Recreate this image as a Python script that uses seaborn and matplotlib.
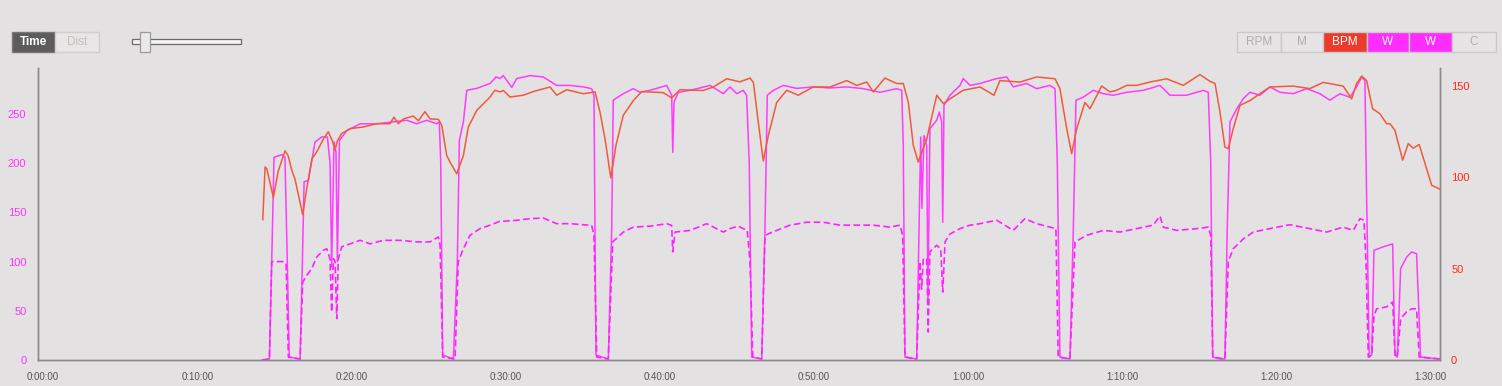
import numpy as np
import pandas as pd
import matplotlib
matplotlib.use("Agg")
import matplotlib.pyplot as plt
from matplotlib.patches import Rectangle
import seaborn as sns

# ---------------- data (time in minutes) ----------------
hr_t = [14.25, 14.40, 14.51, 14.94, 15.24, 15.69, 15.89, 16.13, 16.34, 16.84, 17.10, 17.43, 17.75,
        18.18, 18.50, 18.79, 18.94, 19.09, 19.37, 19.91, 20.77, 21.64, 22.50, 22.76, 23.04, 23.37,
        24.01, 24.34, 24.77, 25.10, 25.64, 25.86, 26.18, 26.39, 26.83, 27.26, 27.58, 28.13, 28.99,
        29.31, 29.64, 29.85, 30.29, 31.15, 31.80, 32.88, 33.31, 33.96, 35.04, 35.80, 36.12, 36.45,
        36.82, 37.16, 37.63, 38.28, 38.83, 40.23, 40.77, 41.31, 42.82, 43.47, 44.34, 45.20, 45.85,
        46.07, 46.39, 46.71, 47.04, 47.58, 48.23, 48.98, 49.95, 51.04, 52.12, 52.77, 53.42, 53.85,
        54.60, 55.36, 55.79, 56.12, 56.44, 56.76, 57.31, 57.96, 58.39, 58.82, 59.68, 60.77, 61.67,
        62.06, 63.36, 64.44, 65.63, 65.95, 66.39, 66.71, 67.04, 67.57, 67.90, 68.66, 69.20, 69.63,
        70.28, 70.93, 71.79, 72.87, 73.95, 75.03, 75.68, 76.01, 76.33, 76.65, 76.87, 77.19, 77.63,
        78.27, 78.92, 79.57, 81.08, 82.15, 83.03, 84.32, 84.87, 85.19, 85.52, 85.84, 86.23, 86.71,
        87.14, 87.36, 87.68, 88.18, 88.54, 88.86, 89.25, 89.73, 90.06, 90.60]
hr_bpm = [76.7, 105.7, 104.8, 89, 103, 114.5, 112, 104, 99, 79.6, 93.8, 110, 114,
          121, 125, 119.4, 115, 120, 124, 126.7, 127.6, 129.4, 129.4, 133, 129.4, 132,
          133.6, 131, 136, 132, 131.8, 128.5, 112, 108.4, 102, 112, 127.6, 136.7, 144,
          147.7, 146.8, 147.6, 144, 145, 147, 149.5, 145, 148, 145.8, 146.8, 135.8, 121,
          99.7, 117.6, 134, 142, 147, 146.4, 143.5, 148, 147.6, 149.5, 154, 152.3, 154.4,
          152, 130, 109, 123, 141, 147.7, 145, 149.5, 149.5, 153, 150.4, 152.2, 146.8,
          154.4, 151.4, 151.4, 141, 117.6, 108.4, 121, 145, 140.4, 143, 147.7, 149.5, 145,
          153, 152.2, 155, 154, 148.6, 126.7, 113, 126.7, 141, 137.6, 150, 146.8, 147.7,
          150.4, 150.4, 152.2, 154, 150.4, 156.3, 152.6, 151.4, 135.8, 116.6, 115.7, 126.7, 139.5,
          142, 145.8, 149.5, 150, 148.6, 152, 150, 143, 151.4, 155.5, 153, 137.6, 134.8,
          129.4, 129.4, 125.7, 109.4, 118.5, 116, 118, 104.8, 95.7, 93.5]

w1_t = [14.20, 14.68, 14.83, 14.98, 15.48, 15.69, 15.84, 15.97, 16.67, 16.82, 16.93, 17.21, 17.64,
        18.07, 18.44, 18.61, 18.72, 18.87, 19.00, 19.09, 19.22, 19.70, 20.56, 21.64, 22.72, 23.59,
        24.24, 24.88, 25.53, 25.70, 25.79, 25.92, 26.61, 26.87, 27.00, 27.26, 27.48, 28.13, 28.99,
        29.38, 29.64, 29.85, 30.40, 30.72, 31.58, 32.44, 33.31, 34.18, 35.04, 35.58, 35.73, 35.86,
        36.66, 36.88, 36.98, 37.63, 38.28, 38.72, 39.36, 40.45, 40.77, 40.84, 40.92, 41.20, 41.96,
        43.26, 44.12, 44.55, 44.99, 45.41, 45.63, 45.80, 45.96, 46.61, 46.82, 46.97, 47.36, 48.01,
        48.88, 49.95, 51.04, 52.12, 53.20, 54.28, 55.36, 55.69, 55.79, 55.90, 56.66, 56.81, 56.92,
        57.00, 57.13, 57.31, 57.39, 57.52, 57.96, 58.13, 58.28, 58.35, 58.43, 58.82, 59.47, 59.68,
        60.12, 60.77, 61.41, 61.85, 62.50, 62.92, 63.79, 64.44, 65.30, 65.63, 65.78, 65.95, 66.60,
        66.82, 66.99, 67.46, 68.11, 68.77, 69.41, 70.28, 71.36, 72.44, 73.09, 74.17, 75.25, 75.57,
        75.73, 75.86, 76.33, 76.65, 76.80, 76.98, 77.41, 77.84, 78.27, 78.92, 79.57, 80.22, 81.08,
        81.95, 82.81, 83.46, 84.11, 84.76, 85.19, 85.52, 85.73, 85.84, 86.01, 86.17, 86.32, 86.92,
        87.53, 87.68, 87.83, 88.05, 88.44, 88.76, 89.08, 89.19, 89.34, 90.60]
w1 = [0, 1, 100, 206, 208.6, 206, 100, 3, 1, 100, 181, 182.6, 221.5,
      226.6, 226.6, 201, 95, 221.5, 211, 100, 223, 233, 240, 240, 242, 243.6,
      240, 243.6, 240, 242, 201, 5, 1, 100, 223, 242, 274, 276, 281,
      287.6, 286, 289, 277, 286, 289, 287.6, 279, 279, 277.5, 275.7, 269, 5,
      1, 133, 264, 270.6, 275.7, 272, 274, 279, 269, 211, 262, 272, 274,
      279, 270.6, 277.5, 270.6, 274, 269, 201, 3, 1, 133, 269, 274, 279,
      276, 277.5, 276.4, 277.5, 275.7, 272, 275.7, 274, 218, 3, 1, 133, 226.6,
      154, 228, 218, 60, 235, 243.6, 252, 242, 140, 259, 269, 279, 286,
      279, 281, 284, 286, 287.6, 277.5, 281, 275.7, 279, 275.7, 201, 3, 1,
      133, 264, 267, 274, 270.6, 269, 272, 274, 279, 269, 269, 274, 272,
      201, 3, 1, 1, 133, 242, 255, 265.5, 272, 269, 277.5, 272, 270.6,
      275.7, 270.6, 264, 270.6, 267, 277.5, 287.6, 284, 167, 3, 5, 111.5, 115,
      118, 5, 3, 93, 104.7, 109.8, 108, 66, 3, 1]

w2_t = [14.20, 14.68, 14.83, 15.58, 15.76, 15.91, 16.67, 16.84, 17.10, 17.43, 17.75, 18.18, 18.40,
        18.61, 18.72, 18.83, 18.94, 19.05, 19.15, 19.37, 19.91, 20.56, 21.21, 22.07, 23.15, 24.24,
        25.10, 25.64, 25.75, 25.92, 26.72, 26.93, 27.26, 27.69, 28.34, 28.99, 29.64, 29.85, 30.72,
        31.58, 32.44, 33.31, 34.18, 35.04, 35.58, 35.73, 35.91, 36.66, 36.95, 37.63, 38.28, 39.36,
        40.45, 40.77, 40.84, 40.99, 41.96, 43.04, 44.12, 44.55, 45.09, 45.41, 45.67, 45.85, 46.03,
        46.61, 46.82, 47.58, 48.44, 49.53, 50.60, 51.69, 52.77, 53.85, 54.93, 55.58, 55.75, 55.90,
        56.66, 56.87, 56.98, 57.09, 57.31, 57.41, 57.52, 57.96, 58.22, 58.35, 58.50, 58.82, 59.47,
        60.12, 60.77, 61.85, 62.92, 63.68, 64.44, 65.30, 65.69, 65.84, 66.60, 66.93, 67.68, 68.77,
        69.84, 70.93, 72.00, 72.44, 72.65, 73.52, 74.82, 75.57, 75.73, 75.86, 76.65, 76.87, 77.19,
        77.84, 78.49, 79.57, 80.87, 82.15, 83.25, 84.32, 84.97, 85.41, 85.67, 85.80, 85.95, 86.17,
        86.32, 86.49, 87.14, 87.53, 87.68, 87.83, 88.05, 88.44, 88.76, 89.08, 89.25, 90.60]
w2 = [0, 1, 100, 100, 98, 3, 1, 79, 86, 93, 104.7, 111.5, 113,
      103, 48.8, 103, 100, 42, 103, 115, 118, 121.6, 118, 121.6, 121.6, 120,
      120, 125, 116.6, 3, 1, 100, 113, 126.7, 133.5, 137, 141, 141, 142,
      143.6, 144.3, 138.5, 138.5, 137.5, 136.8, 126.7, 3, 1, 120, 130, 135, 136,
      138.5, 136.8, 110, 130, 131.7, 138.5, 130, 133.5, 136, 133.5, 132, 100, 3,
      1, 126.7, 131.7, 137, 140, 140, 137, 137, 137, 135, 137, 126.7, 3,
      1, 100, 72, 103, 103, 28.5, 110, 116.6, 113, 69, 120, 128, 133.5,
      137, 138.5, 142, 131.7, 143.6, 138.5, 135, 133.5, 3, 1, 120, 126.7, 131.7,
      130, 133.5, 137, 146.3, 135, 131.7, 133.5, 135, 126.7, 3, 1, 100, 113,
      123, 130, 133.5, 137.5, 133.5, 130, 135, 131.7, 143.6, 142, 100, 3, 5,
      45, 52, 54, 59, 5, 3, 42, 49, 52, 52, 3, 1]

x_ticks = [0, 10, 20, 30, 40, 50, 60, 70, 80, 90]
x_labels = ["0:00:00", "0:10:00", "0:20:00", "0:30:00", "0:40:00", "0:50:00",
            "1:00:00", "1:10:00", "1:20:00", "1:30:00"]
left_ticks = [0, 50, 100, 150, 200, 250]
right_ticks = [0, 50, 100, 150]
left_buttons = ["Time", "Dist"]
right_buttons = ["RPM", "M", "BPM", "W", "W", "C"]

# ---------------- style ----------------
sns.set_theme(style="white")
plt.rcParams["font.family"] = ["Liberation Sans", "DejaVu Sans"]
BG = "#e3e1e1"
RED = "#f05a3e"
MAG = "#ff3cff"
MAG2 = "#ff22ff"

W, H = 1502, 386
fig = plt.figure(figsize=(W / 100, H / 100), dpi=100, facecolor=BG)

def fx(x):
    return x / W

def fy(y):
    return 1 - y / H

ax = fig.add_axes([fx(37.5), fy(360), fx(1440) - fx(37.5), fy(68) - fy(360)])
ax.set_facecolor(BG)
ax2 = ax.twinx()

df_hr = pd.DataFrame({"t": hr_t, "bpm": hr_bpm})
df_w1 = pd.DataFrame({"t": w1_t, "w": w1})
df_w2 = pd.DataFrame({"t": w2_t, "w": w2})

sns.lineplot(data=df_w1, x="t", y="w", ax=ax, color=MAG, linewidth=1.1, sort=False)
sns.lineplot(data=df_w2, x="t", y="w", ax=ax, color=MAG2, linewidth=1.2, sort=False,
             linestyle=(0, (4, 2)))
sns.lineplot(data=df_hr, x="t", y="bpm", ax=ax2, color=RED, linewidth=1.1, sort=False)

ax.set_xlim(-0.36, 90.6)
ax.set_ylim(0, 296.7)
ax2.set_ylim(0, 159.9)

ax.set_xticks(x_ticks)
ax.set_xticklabels(x_labels)
ax.set_yticks(left_ticks)
ax.set_yticklabels([str(v) for v in left_ticks])
ax2.set_yticks(right_ticks)
ax2.set_yticklabels([str(v) for v in right_ticks])

ax.tick_params(axis="x", length=0, pad=9, labelsize=7, labelcolor="#555555")
ax.tick_params(axis="y", length=0, pad=8, labelsize=8, labelcolor="#ff33ff")
ax2.tick_params(axis="y", length=0, pad=8, labelsize=8, labelcolor="#ff2a1a")
for a in (ax, ax2):
    a.set_xlabel("")
    a.set_ylabel("")
    a.grid(False)
    a.spines["top"].set_visible(False)
    for s in ("left", "bottom", "right"):
        a.spines[s].set_color("#8a8a8a")
        a.spines[s].set_linewidth(1.0)

# ---------------- UI controls (top) ----------------
def button(x0, x1, y0, y1, label, face, edge, tcolor, bold=False, size=8.5):
    fig.patches.append(Rectangle((fx(x0), fy(y1)), fx(x1) - fx(x0), fy(y0) - fy(y1),
                                 transform=fig.transFigure, facecolor=face, edgecolor=edge,
                                 linewidth=1.0))
    fig.text(fx((x0 + x1) / 2), fy((y0 + y1) / 2), label, ha="center", va="center",
             color=tcolor, fontsize=size, fontweight="bold" if bold else "normal")

button(12.3, 55, 31.7, 52.3, left_buttons[0], "#5c5c5c", "#777777", "white", bold=True)
button(55, 99, 31.7, 52.3, left_buttons[1], "#e8e6e6", "#d6cccc", "#c6bcbc")

# slider
fig.patches.append(Rectangle((fx(131.7), fy(44)), fx(240.7) - fx(131.7), fy(39) - fy(44),
                             transform=fig.transFigure, facecolor="#f4f4f4",
                             edgecolor="#6a6a6a", linewidth=0.9))
fig.patches.append(Rectangle((fx(140), fy(51.7)), fx(150) - fx(140), fy(32.3) - fy(51.7),
                             transform=fig.transFigure, facecolor="#e9e9e9",
                             edgecolor="#9a9a9a", linewidth=0.9))

rb_x = [1237.3, 1280.7, 1323.3, 1366.7, 1409.3, 1452.3, 1495.7]
rb_face = ["#e6e4e4", "#e6e4e4", "#ec3a2c", "#ff2cff", "#ff2cff", "#e6e4e4"]
rb_text = ["#b0acac", "#b0acac", "white", "white", "white", "#b0acac"]
for i, lab in enumerate(right_buttons):
    button(rb_x[i], rb_x[i + 1], 31.7, 52.3, lab, rb_face[i], "#cbc8c8", rb_text[i],
           bold=(lab in ("BPM", "W")) and False)

fig.savefig("out.png", dpi=100, facecolor=BG)
